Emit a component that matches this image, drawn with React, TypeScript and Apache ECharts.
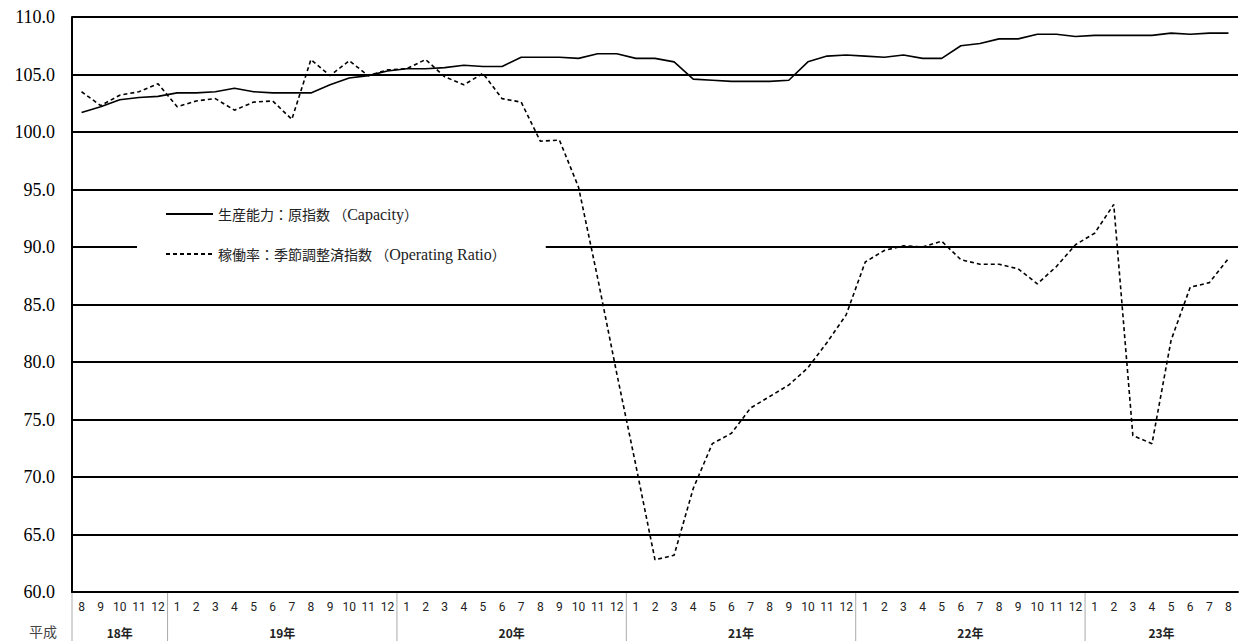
import React, { useEffect, useRef } from "react";
import * as echarts from "echarts";

const months = [
  "8", "9", "10", "11", "12",
  "1", "2", "3", "4", "5", "6", "7", "8", "9", "10", "11", "12",
  "1", "2", "3", "4", "5", "6", "7", "8", "9", "10", "11", "12",
  "1", "2", "3", "4", "5", "6", "7", "8", "9", "10", "11", "12",
  "1", "2", "3", "4", "5", "6", "7", "8", "9", "10", "11", "12",
  "1", "2", "3", "4", "5", "6", "7", "8",
];

const years = ["18年", "19年", "20年", "21年", "22年", "23年"];
// [first month index, last month index] of each year
const yearSpans = [
  [0, 4],
  [5, 16],
  [17, 28],
  [29, 40],
  [41, 52],
  [53, 60],
];

const capacity = [
  101.7, 102.2, 102.8, 103.0, 103.1,
  103.4, 103.4, 103.5, 103.8, 103.5, 103.4, 103.4, 103.4, 104.1, 104.7, 104.9, 105.3,
  105.5, 105.5, 105.6, 105.8, 105.7, 105.7, 106.5, 106.5, 106.5, 106.4, 106.8, 106.8,
  106.4, 106.4, 106.1, 104.6, 104.5, 104.4, 104.4, 104.4, 104.5, 106.1, 106.6, 106.7,
  106.6, 106.5, 106.7, 106.4, 106.4, 107.5, 107.7, 108.1, 108.1, 108.5, 108.5, 108.3,
  108.4, 108.4, 108.4, 108.4, 108.6, 108.5, 108.6, 108.6,
];

const operatingRatio = [
  103.5, 102.3, 103.2, 103.5, 104.2,
  102.2, 102.7, 102.9, 101.9, 102.6, 102.7, 101.1, 106.3, 104.9, 106.2, 104.9, 105.4,
  105.5, 106.3, 104.8, 104.1, 105.1, 102.9, 102.6, 99.2, 99.3, 95.2, 87.3, 79.0,
  71.0, 62.8, 63.2, 69.0, 72.9, 73.8, 76.0, 77.0, 78.0, 79.5, 81.7, 84.1,
  88.7, 89.7, 90.1, 90.0, 90.5, 88.9, 88.5, 88.5, 88.1, 86.8, 88.3, 90.2,
  91.2, 93.7, 73.6, 72.9, 81.9, 86.5, 86.9, 89.0,
];

const yMin = 60;
const yMax = 110;
const yStep = 5;

const seriesNames = ["生産能力：原指数 （Capacity）", "稼働率：季節調整済指数 （Operating Ratio）"];

const sans = "Roboto";
const serif = "Liberation Serif";
const jp = "Noto Sans CJK JP";

export default function App() {
  const ref = useRef<HTMLDivElement>(null);

  useEffect(() => {
    document.body.style.margin = "0";
    if (!ref.current) return;
    const chart = echarts.init(ref.current, null, { renderer: "svg" });

    const legendFormatter = (name: string) => {
      const m = name.match(/^(.*（)(.*)(）)$/);
      if (!m) return name;
      return `{jp|${m[1]}}{en|${m[2]}}{jp|${m[3]}}`;
    };

    chart.setOption({
      animation: false,
      backgroundColor: "#fff",
      grid: { left: 72, right: 1, top: 17, bottom: 49 },
      legend: {
        orient: "vertical",
        left: 137,
        top: 196,
        padding: [10, 40, 10, 28],
        backgroundColor: "#fff",
        itemWidth: 47,
        itemHeight: 14,
        itemGap: 24,
        data: seriesNames,
        formatter: legendFormatter,
        itemStyle: { opacity: 0, color: "rgba(0,0,0,0)", borderWidth: 0 },
        textStyle: {
          fontSize: 14,
          color: "#222",
          rich: {
            jp: { fontFamily: jp, fontSize: 14, color: "#222" },
            en: { fontFamily: serif, fontSize: 16, color: "#222" },
          },
        },
      },
      xAxis: {
        type: "category",
        data: months,
        boundaryGap: true,
        axisLine: { show: true, lineStyle: { color: "#000", width: 2 } },
        axisTick: { show: false },
        axisLabel: {
          interval: 0,
          fontSize: 12,
          color: "#222",
          margin: 9,
          fontFamily: sans,
        },
        splitLine: { show: false },
      },
      yAxis: {
        type: "value",
        min: yMin,
        max: yMax,
        interval: yStep,
        axisLine: { show: true, lineStyle: { color: "#000", width: 2 } },
        axisTick: { show: false },
        axisLabel: {
          formatter: (v: number) => `{v|${v.toFixed(1)}}`,
          color: "#000",
          fontSize: 18,
          fontFamily: serif,
          margin: 17,
          textStyle: { fontSize: 18, fontFamily: serif, color: "#000" },
          rich: {
            v: { fontSize: 18, fontFamily: serif, color: "#000", lineHeight: 20 },
          },
        },
        splitLine: { show: true, lineStyle: { color: "#000", width: 1.8 } },
      },
      graphic: [
        {
          type: "text",
          left: 29,
          top: 624,
          silent: true,
          style: { text: "平成", fontSize: 14, fill: "#444", fontFamily: jp },
        },
      ],
      series: [
        {
          name: seriesNames[0],
          type: "line",
          data: capacity,
          symbol: "none",
          lineStyle: { color: "#000", width: 1.6, type: "solid" },
          itemStyle: { color: "#000" },
          z: 3,
        },
        {
          name: seriesNames[1],
          type: "line",
          data: operatingRatio,
          symbol: "none",
          lineStyle: { color: "#000", width: 1.6, type: [4, 3] },
          itemStyle: { color: "#000" },
          z: 3,
        },
        {
          name: "years",
          type: "custom",
          silent: true,
          clip: false,
          data: yearSpans.map((s) => [s[0], s[1], yMin]),
          encode: { x: [0, 1], y: 2 },
          renderItem: (params: any, api: any) => {
            const s = api.value(0);
            const e = api.value(1);
            const bw = api.size([1, 0])[0];
            const p0 = api.coord([s, yMin]);
            const p1 = api.coord([e, yMin]);
            const x0 = p0[0] - bw / 2;
            const x1 = p1[0] + bw / 2;
            const y0 = p0[1];
            return {
              type: "group",
              children: [
                {
                  type: "line",
                  shape: { x1: x0, y1: y0 + 1, x2: x0, y2: y0 + 50 },
                  style: { stroke: "#aaa", lineWidth: 1 },
                },
                {
                  type: "text",
                  style: {
                    text: years[params.dataIndex],
                    x: (x0 + x1) / 2,
                    y: y0 + 40,
                    textAlign: "center",
                    textVerticalAlign: "middle",
                    align: "center",
                    verticalAlign: "middle",
                    fontSize: 12,
                    fontWeight: "bold",
                    fontFamily: jp,
                    fill: "#222",
                  },
                },
              ],
            };
          },
        },
      ],
    });

    return () => chart.dispose();
  }, []);

  return <div ref={ref} style={{ width: 1239, height: 641 }} />;
}
